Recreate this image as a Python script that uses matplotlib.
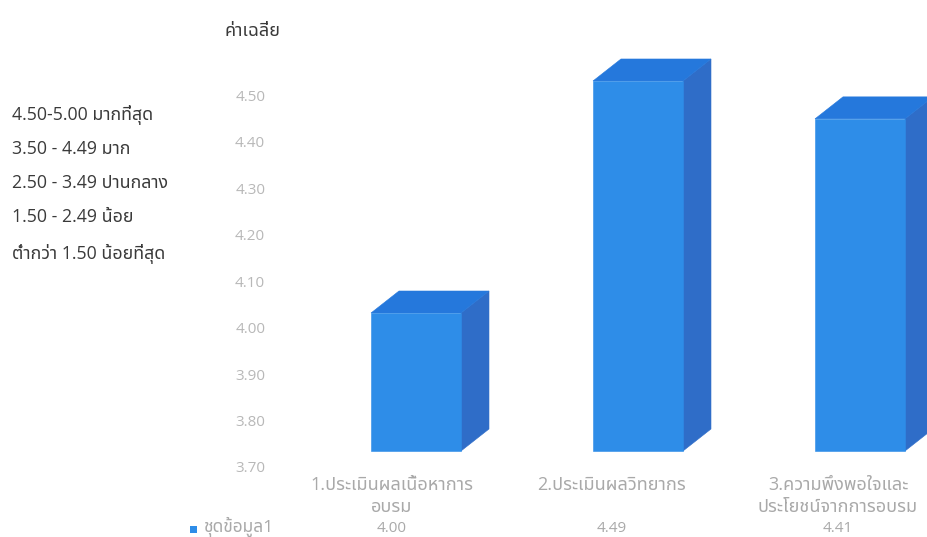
import matplotlib
matplotlib.use("Agg")
import matplotlib.pyplot as plt
from matplotlib.patches import Polygon, Rectangle

# Chart data
categories = ["1.ประเมินผลเนื้อหาการ\nอบรม", "2.ประเมินผลวิทยากร", "3.ความพึงพอใจและ\nประโยชน์จากการอบรม"]
values = [4.00, 4.49, 4.41]
value_labels = ["4.00", "4.49", "4.41"]
tick_values = [3.70, 3.80, 3.90, 4.00, 4.10, 4.20, 4.30, 4.40, 4.50]
series_name = "ชุดข้อมูล1"
axis_title = "ค่าเฉลี่ย"
scale_notes = ["4.50-5.00 มากที่สุด", "3.50 - 4.49 มาก", "2.50 - 3.49 ปานกลาง",
               "1.50 - 2.49 น้อย", "ต่ำกว่า 1.50 น้อยที่สุด"]

W, H = 928, 537
FONT = ["Open Sans", "Noto Sans Thai", "DejaVu Sans"]
FRONT, TOP, SIDE = "#2E8DE8", "#2578DC", "#2F6DC8"
INK, GREY = "#3a3a3a", "#a9a9a9"

plt.rcParams["font.family"] = FONT
fig = plt.figure(figsize=(W / 100, H / 100), dpi=100, facecolor="white")

def px(x, y):
    """Pixel position measured from the top-left corner, as figure fractions."""
    return x / W, 1 - y / H

# Bar layer: covers the whole figure; x in category units, y in value units
ax = fig.add_axes([0, 0, 1, 1])
ax.axis("off")
bar_step, first_centre = 222, 416
px_per_unit = 473.5
ax.set_xlim((0 - first_centre) / bar_step, (W - first_centre) / bar_step)
ax.set_ylim(4.00 - (H - 313) / px_per_unit, 4.00 + 313 / px_per_unit)

base = 4.00 - (451 - 313) / px_per_unit
half = 45 / bar_step
dx, dy = 28 / bar_step, 22 / px_per_unit

for i, v in enumerate(values):
    l, r = i - half, i + half
    ax.add_patch(Polygon([(r, base), (r + dx, base + dy), (r + dx, v + dy), (r, v)],
                         closed=True, fc=SIDE, ec=SIDE, lw=0.4))
    ax.add_patch(Polygon([(l, v), (l + dx, v + dy), (r + dx, v + dy), (r, v)],
                         closed=True, fc=TOP, ec=TOP, lw=0.4))
    ax.add_patch(Rectangle((l, base), r - l, v - base, fc=FRONT, ec=FRONT, lw=0.4))

# Value axis: its own layer, since its labels sit on the chart's back wall
left = 268 / W
tick_ax = fig.add_axes([left, 0, 1 - left, 1], facecolor="none")
tick_px_per_unit = 465
tick_ax.set_ylim(3.70 - (H - 467) / tick_px_per_unit, 3.70 + 467 / tick_px_per_unit)
tick_ax.set_xticks([])
tick_ax.set_yticks(tick_values)
tick_ax.set_yticklabels([f"{t:.2f}" for t in tick_values], fontsize=11, color="#b8b8b8")
tick_ax.tick_params(axis="y", length=0, pad=2)
for s in tick_ax.spines.values():
    s.set_visible(False)

# Axis title and the interpretation key
fig.text(*px(253, 31), axis_title, ha="center", va="center", fontsize=13, color=INK)
for text, y in zip(scale_notes, [115, 149, 183, 217, 254]):
    fig.text(*px(12, y), text, ha="left", va="center", fontsize=12.8, color=INK)

# Category labels with the data row underneath
label_centres = [392, 612, 838]
for text, value, x in zip(categories, value_labels, label_centres):
    for line, y in zip(text.split("\n"), [485, 507]):
        fig.text(*px(x, y), line, ha="center", va="center", fontsize=13, color=GREY)
    fig.text(*px(x, 529), value, ha="center", va="center", fontsize=11, color=GREY)

# Legend key
fx, fy = px(190, 533)
fig.add_artist(Rectangle((fx, fy), 7 / W, 7 / H, transform=fig.transFigure, fc=FRONT, ec="none"))
fig.text(*px(203, 527), series_name, ha="left", va="center", fontsize=12.5, color=GREY)

fig.savefig("out.png", dpi=100)
